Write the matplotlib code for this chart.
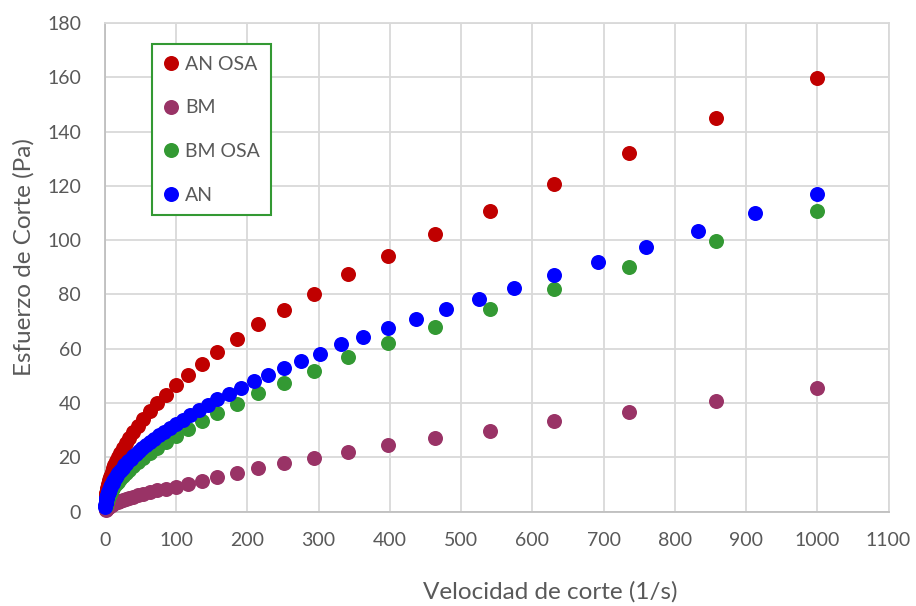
import matplotlib
matplotlib.use("Agg")
import matplotlib.pyplot as plt

# shear rate grids (1/s)
rate_15 = [1.00, 1.17, 1.36, 1.58, 1.85, 2.15, 2.51, 2.93, 3.41, 3.98, 4.64, 5.41, 6.31, 7.36, 8.58,
           10.0, 11.7, 13.6, 15.8, 18.5, 21.5, 25.1, 29.3, 34.1, 39.8, 46.4, 54.1, 63.1, 73.6, 85.8,
           100, 117, 136, 158, 185, 215, 251, 293, 341, 398, 464, 541, 631, 736, 858, 1000]
rate_25 = [0.25, 0.50,
           1.00, 1.10, 1.20, 1.32, 1.45, 1.58, 1.74, 1.91, 2.09, 2.29, 2.51, 2.75, 3.02, 3.31, 3.63,
           3.98, 4.37, 4.79, 5.25, 5.75, 6.31, 6.92, 7.59, 8.32, 9.12,
           10.0, 11.0, 12.0, 13.2, 14.5, 15.8, 17.4, 19.1, 20.9, 22.9, 25.1, 27.5, 30.2, 33.1, 36.3,
           39.8, 43.7, 47.9, 52.5, 57.5, 63.1, 69.2, 75.9, 83.2, 91.2,
           100, 110, 120, 132, 145, 158, 174, 191, 209, 229, 251, 275, 302, 331, 363, 398, 437,
           479, 525, 575, 631, 692, 759, 832, 912, 1000]

# shear stress (Pa)
an_osa = [4.65, 5.02, 5.42, 5.85, 6.32, 6.83, 7.37, 7.96, 8.59, 9.28, 10.0, 10.8, 11.7, 12.6, 13.6,
          14.7, 15.9, 17.1, 18.5, 20.0, 21.6, 23.3, 25.2, 27.2, 29.3, 31.7, 34.2, 36.9, 39.9, 43.1,
          46.5, 50.4, 54.4, 58.9, 63.6, 69.0, 74.3, 80.3, 87.5, 94.3, 102.1, 110.8, 120.8, 132.2,
          145.0, 159.8]
bm = [0.73, 0.79, 0.86, 0.94, 1.03, 1.12, 1.22, 1.32, 1.44, 1.57, 1.70, 1.85, 2.02, 2.19, 2.39,
      2.60, 2.83, 3.07, 3.35, 3.64, 3.96, 4.31, 4.69, 5.10, 5.55, 6.04, 6.58, 7.16, 7.79, 8.47,
      9.2, 10.2, 11.3, 12.7, 14.3, 15.9, 17.8, 19.6, 22.1, 24.4, 27.0, 29.8, 33.3, 36.8, 40.7, 45.6]
bm_osa = [2.21, 2.40, 2.62, 2.85, 3.10, 3.37, 3.67, 3.99, 4.34, 4.73, 5.14, 5.60, 6.09, 6.62, 7.21,
          7.84, 8.53, 9.29, 10.1, 11.0, 11.9, 13.0, 14.1, 15.4, 16.7, 18.2, 19.8, 21.6, 23.5, 25.5,
          27.8, 30.3, 33.5, 36.4, 39.6, 43.6, 47.3, 51.7, 57.0, 62.0, 68.0, 74.5, 82.1, 90.2, 99.8,
          110.8]
an = [1.6, 2.3,
      3.23, 3.38, 3.54, 3.71, 3.88, 4.07, 4.26, 4.46, 4.67, 4.89, 5.12, 5.36, 5.61, 5.88, 6.15,
      6.44, 6.75, 7.07, 7.40, 7.75, 8.11, 8.49, 8.90, 9.32, 9.75,
      10.2, 10.7, 11.2, 11.7, 12.3, 12.9, 13.5, 14.1, 14.8, 15.5, 16.2, 17.0, 17.7, 18.6, 19.5,
      20.4, 21.3, 22.3, 23.4, 24.5, 25.7, 26.9, 28.1, 29.5, 30.8,
      32.3, 33.9, 35.6, 37.5, 39.4, 41.5, 43.3, 45.7, 48.0, 50.3, 52.9, 55.5, 58.1, 61.7, 64.4,
      67.5, 71.0, 74.5, 78.3, 82.5, 87.1, 92.0, 97.5, 103.3, 109.9, 116.9]

plt.rcParams['font.family'] = ['Lato', 'DejaVu Sans']

fig = plt.figure(figsize=(9.16, 6.06), dpi=100)
ax = fig.add_axes([0.1144, 0.1558, 0.8556, 0.8062])

ms = 10.8
kw = dict(ls='none', ms=ms, mew=0, clip_on=False)
ax.plot(rate_15, an_osa, 'o', color='#C00000', label='AN OSA', zorder=3, **kw)
ax.plot(rate_15, bm, 'o', color='#993366', label='BM', zorder=4, **kw)
ax.plot(rate_15, bm_osa, 'o', color='#339933', label='BM OSA', zorder=5, **kw)
ax.plot(rate_25, an, 'o', color='#0000FF', label='AN', zorder=6, **kw)

ax.set_xlim(0, 1100)
ax.set_ylim(0, 180)
ax.set_xticks(range(0, 1101, 100))
ax.set_yticks(range(0, 181, 20))
ax.grid(True, color='#D9D9D9', lw=1.3)
ax.set_axisbelow(True)
for s in ['top', 'right']:
    ax.spines[s].set_color('#D9D9D9')
    ax.spines[s].set_linewidth(1.3)
for s in ['left', 'bottom']:
    ax.spines[s].set_color('#BFBFBF')
    ax.spines[s].set_linewidth(1.3)
ax.tick_params(length=0, labelsize=14, labelcolor='#595959')
ax.tick_params(axis='x', pad=15)
ax.tick_params(axis='y', pad=17)

ax.set_xlabel('Velocidad de corte (1/s)', fontsize=17.5, color='#595959')
ax.set_ylabel('Esfuerzo de Corte (Pa)', fontsize=17.5, color='#595959')
ax.xaxis.set_label_coords(0.568, -0.142)
ax.yaxis.set_label_coords(-0.090, 0.521)

leg = ax.legend(loc='upper left', bbox_to_anchor=(0.060, 0.957), fontsize=14,
                frameon=True, fancybox=False, framealpha=1, edgecolor='#339933',
                labelspacing=1.37, handletextpad=0.3, handlelength=0.8,
                borderpad=0.6, borderaxespad=0, labelcolor='#595959')
leg.get_frame().set_linewidth(1.5)

fig.savefig('out.png', dpi=100)
